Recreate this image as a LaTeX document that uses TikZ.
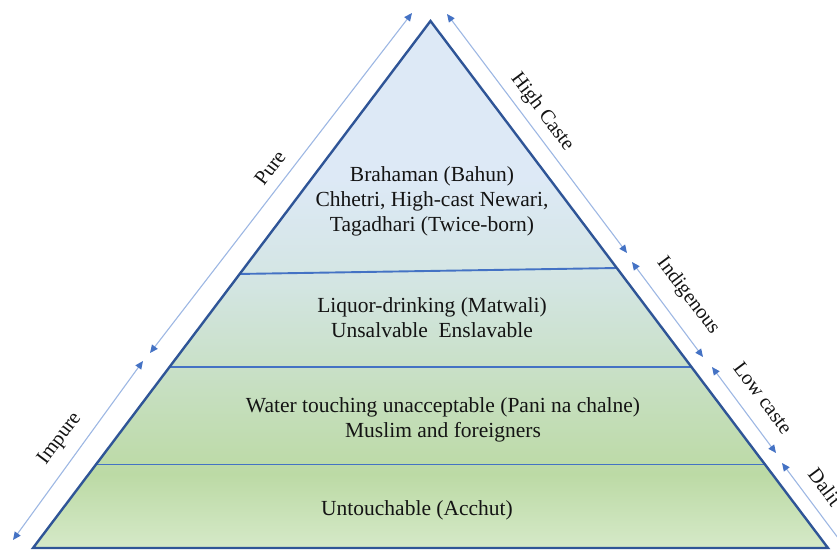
\documentclass[tikz,border=0pt]{standalone}
\usepackage{fontspec}
\setmainfont{Liberation Serif}
\usetikzlibrary{arrows.meta,calc}
\definecolor{edgeblue}{HTML}{2F5597}
\definecolor{divblue}{HTML}{4472C4}
\definecolor{arrline}{HTML}{9DB7E3}
\definecolor{arrhead}{HTML}{4472C4}
\definecolor{gbot}{HTML}{D5E9C8}
\definecolor{gmid}{HTML}{BCDAA5}
\definecolor{gblu}{HTML}{D3E5E2}
\definecolor{gtop}{HTML}{DDE9F6}
\definecolor{txt}{HTML}{141414}
\pgfdeclareverticalshading{pyr}{100bp}{color(0bp)=(gbot); color(25bp)=(gbot); color(32bp)=(gmid); color(50bp)=(gblu); color(60bp)=(gtop); color(100bp)=(gtop)}
\begin{document}
\begin{tikzpicture}[x=1pt,y=-1pt,
  lbl/.style={font=\fontsize{21.5}{25}\selectfont, text=txt, align=center, inner sep=0pt},
  side/.style={font=\fontsize{20.5}{24}\selectfont, text=txt, inner sep=0pt},
  dbl/.style={draw=arrline, line width=1.1pt,
    arrows={Triangle[length=8pt,width=7pt,color=arrhead]-Triangle[length=8pt,width=7pt,color=arrhead]}},
  divider/.style={draw=divblue, line width=1.9pt}]
\useasboundingbox (0,0) rectangle (837,551);
\clip (0,0) rectangle (837,551);
% pyramid corners
\coordinate (apex) at (430.5,21);
\coordinate (bl) at (33,548);
\coordinate (br) at (828,548);
\shade[shading=pyr] (apex) -- (bl) -- (br) -- cycle;
% dividers
\coordinate (d1l) at ($(apex)!0.480!(bl)$);
\coordinate (d1r) at ($(apex)!0.4687!(br)$);
\coordinate (d2l) at ($(apex)!0.6565!(bl)$);
\coordinate (d2r) at ($(apex)!0.6565!(br)$);
\coordinate (d3l) at ($(apex)!0.8416!(bl)$);
\coordinate (d3r) at ($(apex)!0.8416!(br)$);
\draw[divider] (d1l) -- (d1r);
\draw[divider] (d2l) -- (d2r);
\draw[divider] (d3l) -- (d3r);
\draw[draw=edgeblue, line width=2.4pt, line join=miter] (apex) -- (bl) -- (br) -- cycle;
% tier texts
\node[lbl] (t1) at (432,201) {Brahaman (Bahun)\\Chhetri, High-cast Newari,\\Tagadhari (Twice-born)};
\node[lbl] (t2) at (432,318) {Liquor-drinking (Matwali)\\Unsalvable\ \ Enslavable};
\node[lbl] (t3) at (443,420) {Water touching unacceptable (Pani na chalne)\\Muslim and foreigners};
\node[lbl] (t4) at (417,510) {Untouchable (Acchut)};
% side arrows
\coordinate (pa) at (150,353);
\coordinate (pb) at (412,13);
\coordinate (ia) at (143,361);
\coordinate (ib) at (13,540);
\coordinate (ha) at (447,14);
\coordinate (hb) at (627,253);
\coordinate (na) at (632,262);
\coordinate (nb) at (703,357);
\coordinate (la) at (712,367);
\coordinate (lb) at (776,453);
\coordinate (da) at (782,463);
\coordinate (db) at (856,562);
\draw[dbl] (pa) -- (pb);
\draw[dbl] (ia) -- (ib);
\draw[dbl] (ha) -- (hb);
\draw[dbl] (na) -- (nb);
\draw[dbl] (la) -- (lb);
\draw[dbl] (da) -- (db);
% side labels
\node[side, rotate=53] (lpure) at (270,168) {Pure};
\node[side, rotate=53] (limpure) at (60,439) {Impure};
\node[side, rotate=-53] (lhigh) at (542,112) {High Caste};
\node[side, rotate=-53] (lind) at (688,296) {Indigenous};
\node[side, rotate=-53] (llow) at (763,398) {Low caste};
\node[side, rotate=-53] (ldal) at (825,487) {Dalit};
\end{tikzpicture}
\end{document}
